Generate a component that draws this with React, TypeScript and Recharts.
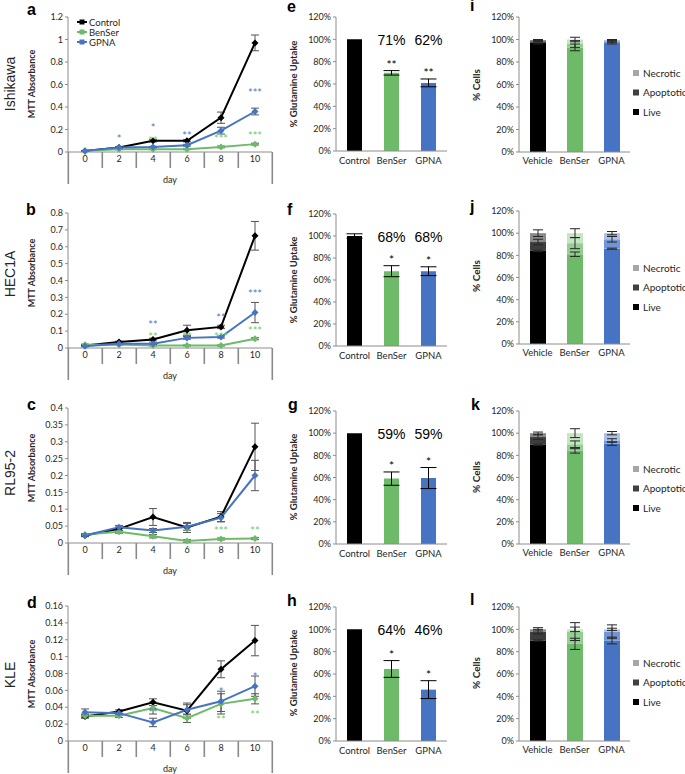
import React from 'react'
import { LineChart, Line, BarChart, Bar, XAxis, YAxis, ErrorBar, LabelList, Cell } from 'recharts'

const FONT = 'Lato, "Open Sans", sans-serif'
const ARIAL = '"Liberation Sans", Arial, sans-serif'
const AXIS = '#8c8c8c'
const SEP = '#8a8a8a'
const INK = '#262626'
const BLACK = '#000000'
const GREEN = '#6dbb69'
const BLUE = '#4674c2'
const GREEN_STAR = '#6ccd68'
const BLUE_STAR = '#4a7cc9'

const days = ['0', '2', '4', '6', '8', '10']

// a  Ishikawa
const ishControl = [0.01, 0.04, 0.1, 0.1, 0.305, 0.97]
const ishControlErr = [0.004, 0.006, 0.01, 0.01, 0.05, 0.07]
const ishBenSer = [0.01, 0.025, 0.025, 0.025, 0.045, 0.07]
const ishBenSerErr = [0.003, 0.004, 0.004, 0.004, 0.008, 0.008]
const ishGpna = [0.01, 0.04, 0.045, 0.06, 0.19, 0.36]
const ishGpnaErr = [0.003, 0.005, 0.005, 0.008, 0.03, 0.03]
const ishBenSerStars = ['', '', '**', '', '***', '***']
const ishGpnaStars = ['', '*', '*', '**', '', '***']
const ishTicks = [0, 0.2, 0.4, 0.6, 0.8, 1, 1.2]

// b  HEC1A
const hecControl = [0.015, 0.035, 0.05, 0.105, 0.125, 0.665]
const hecControlErr = [0.003, 0.005, 0.008, 0.03, 0.01, 0.085]
const hecBenSer = [0.02, 0.02, 0.015, 0.015, 0.015, 0.055]
const hecBenSerErr = [0.003, 0.003, 0.003, 0.003, 0.003, 0.006]
const hecGpna = [0.01, 0.025, 0.025, 0.06, 0.065, 0.21]
const hecGpnaErr = [0.003, 0.004, 0.004, 0.008, 0.006, 0.06]
const hecBenSerStars = ['', '', '**', '**', '***', '***']
const hecGpnaStars = ['', '', '**', '', '**', '***']
const hecTicks = [0, 0.1, 0.2, 0.3, 0.4, 0.5, 0.6, 0.7, 0.8]

// c  RL95-2
const rlControl = [0.022, 0.042, 0.077, 0.046, 0.078, 0.285]
const rlControlErr = [0.003, 0.005, 0.025, 0.015, 0.015, 0.07]
const rlBenSer = [0.025, 0.033, 0.02, 0.006, 0.012, 0.013]
const rlBenSerErr = [0.003, 0.004, 0.005, 0.004, 0.003, 0.003]
const rlGpna = [0.022, 0.047, 0.037, 0.048, 0.075, 0.2]
const rlGpnaErr = [0.003, 0.005, 0.006, 0.01, 0.012, 0.045]
const rlBenSerStars = ['', '', '', '*', '***', '**']
const rlGpnaStars = ['', '', '', '', '', '']
const rlTicks = [0, 0.05, 0.1, 0.15, 0.2, 0.25, 0.3, 0.35, 0.4]

// d  KLE
const kleControl = [0.029, 0.035, 0.046, 0.036, 0.085, 0.119]
const kleControlErr = [0.002, 0.002, 0.004, 0.009, 0.01, 0.018]
const kleBenSer = [0.03, 0.03, 0.039, 0.027, 0.044, 0.05]
const kleBenSerErr = [0.002, 0.002, 0.007, 0.005, 0.012, 0.006]
const kleGpna = [0.034, 0.033, 0.022, 0.037, 0.047, 0.065]
const kleGpnaErr = [0.004, 0.002, 0.005, 0.006, 0.012, 0.012]
const kleBenSerStars = ['', '', '', '', '**', '**']
const kleGpnaStars = ['', '', '**', '', '*', '*']
const kleTicks = [0, 0.02, 0.04, 0.06, 0.08, 0.1, 0.12, 0.14, 0.16]

// e-h glutamine uptake
const treatments = ['Control', 'BenSer', 'GPNA']
const uptakeTicks = [0, 20, 40, 60, 80, 100, 120]
const ishUptake = [100, 70, 61]
const ishUptakeErr = [0, 2, 3.5]
const ishUptakeLabels = ['', '71%', '62%']
const ishUptakeStars = ['', '**', '**']
const hecUptake = [100, 68, 68]
const hecUptakeErr = [2, 5, 4]
const hecUptakeLabels = ['', '68%', '68%']
const hecUptakeStars = ['', '*', '*']
const rlUptake = [100, 59, 59.5]
const rlUptakeErr = [0, 6, 9.5]
const rlUptakeLabels = ['', '59%', '59%']
const rlUptakeStars = ['', '*', '*']
const kleUptake = [100, 64.5, 46]
const kleUptakeErr = [0, 7.5, 8]
const kleUptakeLabels = ['', '64%', '46%']
const kleUptakeStars = ['', '*', '*']

// i-l cell viability
const groups = ['Vehicle', 'BenSer', 'GPNA']
const ishLive = [97, 93, 97]
const ishLiveErr = [1, 3, 1]
const ishApoptotic = [1.5, 3, 1.5]
const ishApoptoticErr = [0.5, 3, 1]
const ishNecrotic = [1, 4, 1]
const ishNecroticErr = [0.5, 2, 0.5]
const hecLive = [84, 81, 86]
const hecLiveErr = [0.5, 2, 0.5]
const hecApoptotic = [8, 10, 8.5]
const hecApoptoticErr = [2.5, 5, 2.5]
const hecNecrotic = [8, 9, 5.5]
const hecNecroticErr = [3, 4, 1.5]
const rlLive = [89.5, 84, 90.5]
const rlLiveErr = [0.5, 2, 1.5]
const rlApoptotic = [7, 6, 3]
const rlApoptoticErr = [2, 3, 1.5]
const rlNecrotic = [3.5, 10, 6.5]
const rlNecroticErr = [1, 4, 1.5]
const kleLive = [90, 87, 90]
const kleLiveErr = [0.5, 5, 3]
const kleApoptotic = [8, 11, 8]
const kleApoptoticErr = [2, 8, 6]
const kleNecrotic = [2, 2, 2]
const kleNecroticErr = [1.5, 2, 1]

const liveColors = [BLACK, GREEN, BLUE]
const apoptoticColors = ['#3d3d3d', '#94cf91', '#7195d6']
const necroticColors = ['#8a8a8a', '#c6e5c3', '#aec2e9']

const mttRows = (c: number[], ce: number[], b: number[], be: number[], g: number[], ge: number[], bs: string[], gs: string[]) =>
  days.map((day, i) => ({
    day,
    control: c[i], controlErr: ce[i],
    benser: b[i], benserErr: be[i],
    gpna: g[i], gpnaErr: ge[i],
    benserStar: bs[i], gpnaStar: gs[i],
  }))

const HALF = 17

// day labels with Excel-style separators between the categories
function DayTick(props: any) {
  const x = Number(props.x)
  const y = Number(props.y)
  const index = props.index
  return (
    <g>
      <text x={x} y={y + 10} textAnchor="middle" fontSize={9} fill={INK} fontFamily={FONT}>{props.payload.value}</text>
      <rect x={Math.round(x - HALF) - 0.5} y={y} width={1.6} height={index === 0 ? 32 : 16} fill={SEP} />
      {index === days.length - 1 && <rect x={Math.round(x + HALF) - 0.5} y={y} width={1.6} height={32} fill={SEP} />}
    </g>
  )
}

const diamond = (color: string) => (p: any) => {
  const { cx, cy, index } = p
  if (cx == null || cy == null) return <g key={index} />
  return <path key={index} d={`M${cx},${cy - 3.5}L${cx + 3.5},${cy}L${cx},${cy + 3.5}L${cx - 3.5},${cy}Z`} fill={color} />
}

const pos = (p: any) => ({ x: p.viewBox?.x ?? p.x, y: p.viewBox?.y ?? p.y })

function MttPanel({ top, data, ticks, greenBelow = false }: { top: number; data: any[]; ticks: number[]; greenBelow?: boolean }) {
  const gpnaStar = (p: any) => {
    if (!p.value) return null
    const { x, y } = pos(p)
    const both = !greenBelow && data[p.index]?.benserStar
    return <text x={x} y={y - (both ? 15 : 5)} textAnchor="middle" fontSize={11} fill={BLUE_STAR} fontFamily={FONT}>{p.value}</text>
  }
  const benserStar = (p: any) => {
    if (!p.value) return null
    const { x, y } = pos(p)
    return <text x={x} y={greenBelow ? y + 20 : y - 4} textAnchor="middle" fontSize={11} fill={GREEN_STAR} fontFamily={FONT}>{p.value}</text>
  }
  return (
    <div style={{ position: 'absolute', left: 0, top, width: 285, height: 190 }}>
      <LineChart width={285} height={190} data={data} margin={{ top: 17, right: 13, bottom: 0, left: 0 }}>
        <XAxis dataKey="day" height={38} interval={0} padding={{ left: HALF, right: HALF }}
          axisLine={{ stroke: AXIS }} tickLine={false} tickSize={0} tickMargin={0}
          tick={<DayTick />}
          label={{ value: 'day', position: 'insideBottom', offset: 7, fontSize: 9, fill: INK, fontFamily: FONT }} />
        <YAxis width={68} type="number" domain={[0, ticks[ticks.length - 1]]} ticks={ticks} interval={0}
          axisLine={{ stroke: AXIS }} tickLine={{ stroke: AXIS }} tickSize={3}
          tick={{ fontSize: 9, fill: INK, fontFamily: FONT }} />
        <Line dataKey="control" stroke={BLACK} strokeWidth={2} dot={diamond(BLACK)} isAnimationActive={false}>
          <ErrorBar dataKey="controlErr" width={4} stroke="#555" strokeWidth={1} direction="y" />
        </Line>
        <Line dataKey="benser" stroke={GREEN} strokeWidth={2} dot={diamond(GREEN)} isAnimationActive={false}>
          <ErrorBar dataKey="benserErr" width={4} stroke="#555" strokeWidth={1} direction="y" />
          <LabelList dataKey="benserStar" content={benserStar} />
        </Line>
        <Line dataKey="gpna" stroke={BLUE} strokeWidth={2} dot={diamond(BLUE)} isAnimationActive={false}>
          <ErrorBar dataKey="gpnaErr" width={4} stroke="#555" strokeWidth={1} direction="y" />
          <LabelList dataKey="gpnaStar" content={gpnaStar} />
        </Line>
      </LineChart>
    </div>
  )
}

function UptakePanel({ top, plotH, values, errs, labels, stars }: { top: number; plotH: number; values: number[]; errs: number[]; labels: string[]; stars: string[] }) {
  const rows = treatments.map((name, i) => ({ name, value: values[i], err: errs[i], pct: labels[i], star: stars[i] }))
  const starContent = (p: any) => {
    if (!p.value) return null
    const vb = p.viewBox || p
    const r = rows[p.index]
    const errTop = vb.y - (r ? (r.err * vb.height) / r.value : 0)
    return <text x={vb.x + vb.width / 2} y={errTop - 2} textAnchor="middle" fontSize={12} fill={BLACK} fontFamily={FONT}>{p.value}</text>
  }
  const pctContent = (p: any) => {
    if (!p.value) return null
    const vb = p.viewBox || p
    return <text x={vb.x + vb.width / 2} y={17 + 28} textAnchor="middle" fontSize={14} fill={BLACK} fontFamily={ARIAL}>{p.value}</text>
  }
  return (
    <div style={{ position: 'absolute', left: 230, top, width: 230, height: 17 + plotH + 25 }}>
      <BarChart width={230} height={17 + plotH + 25} data={rows} margin={{ top: 17, right: 13, bottom: 0, left: 0 }}>
        <XAxis dataKey="name" height={25} interval={0} axisLine={{ stroke: AXIS }} tickLine={false} tickSize={0} tickMargin={6}
          tick={{ fontSize: 9.5, fill: INK, fontFamily: FONT }} />
        <YAxis width={106} type="number" domain={[0, 120]} ticks={uptakeTicks} interval={0} tickFormatter={(v: number) => `${v}%`}
          axisLine={{ stroke: AXIS }} tickLine={{ stroke: AXIS }} tickSize={3}
          tick={{ fontSize: 9, fill: INK, fontFamily: FONT }} />
        <Bar dataKey="value" barSize={15} isAnimationActive={false}>
          {rows.map((r, i) => <Cell key={r.name} fill={liveColors[i]} />)}
          <ErrorBar dataKey="err" width={8} stroke={BLACK} strokeWidth={1} direction="y" />
          <LabelList dataKey="star" content={starContent} />
          <LabelList dataKey="pct" content={pctContent} />
        </Bar>
      </BarChart>
    </div>
  )
}

function ViabilityPanel({ top, plotH, live, liveErr, apo, apoErr, nec, necErr }: { top: number; plotH: number; live: number[]; liveErr: number[]; apo: number[]; apoErr: number[]; nec: number[]; necErr: number[] }) {
  const rows = groups.map((name, i) => ({ name, live: live[i], liveErr: liveErr[i], apo: apo[i], apoErr: apoErr[i], nec: nec[i], necErr: necErr[i] }))
  return (
    <div style={{ position: 'absolute', left: 440, top, width: 245, height: 17 + plotH + 25 }}>
      <BarChart width={245} height={17 + plotH + 25} data={rows} margin={{ top: 17, right: 55, bottom: 0, left: 0 }}>
        <XAxis dataKey="name" height={25} interval={0} axisLine={{ stroke: AXIS }} tickLine={false} tickSize={0} tickMargin={5}
          tick={{ fontSize: 9.5, fill: INK, fontFamily: FONT }} />
        <YAxis width={79} type="number" domain={[0, 120]} ticks={uptakeTicks} interval={0} tickFormatter={(v: number) => `${v}%`}
          axisLine={{ stroke: AXIS }} tickLine={{ stroke: AXIS }} tickSize={3}
          tick={{ fontSize: 9, fill: INK, fontFamily: FONT }} />
        <Bar dataKey="live" stackId="v" barSize={16} isAnimationActive={false}>
          {rows.map((r, i) => <Cell key={r.name} fill={liveColors[i]} />)}
          <ErrorBar dataKey="liveErr" width={5} stroke={INK} strokeWidth={1} direction="y" />
        </Bar>
        <Bar dataKey="apo" stackId="v" barSize={16} isAnimationActive={false}>
          {rows.map((r, i) => <Cell key={r.name} fill={apoptoticColors[i]} />)}
          <ErrorBar dataKey="apoErr" width={5} stroke={INK} strokeWidth={1} direction="y" />
        </Bar>
        <Bar dataKey="nec" stackId="v" barSize={16} isAnimationActive={false}>
          {rows.map((r, i) => <Cell key={r.name} fill={necroticColors[i]} />)}
          <ErrorBar dataKey="necErr" width={5} stroke={INK} strokeWidth={1} direction="y" />
        </Bar>
      </BarChart>
    </div>
  )
}

const cellLines = ['Ishikawa', 'HEC1A', 'RL95-2', 'KLE']
const cellLineY = [84, 274, 473, 675]
const mttTitleY = [84, 273, 468, 674]
const uptakeTitleY = [84, 280, 477, 673]
const cellsTitleY = [85, 276, 477, 673]
const letters = [
  ['a', 27, 15], ['b', 26, 215], ['c', 27, 410], ['d', 27, 608],
  ['e', 287, 12], ['f', 287, 215], ['g', 288, 410], ['h', 287, 606],
  ['i', 470, 11], ['j', 470, 212], ['k', 471, 410], ['l', 470, 605],
] as const
const legendRows = [73, 268, 469, 663]
const cellLegend = [['Necrotic', '#a6a6a6'], ['Apoptotic', '#404040'], ['Live', BLACK]] as const
const lineLegend = [['Control', BLACK], ['BenSer', GREEN], ['GPNA', BLUE]] as const

function Overlay() {
  return (
    <svg width={685} height={774} style={{ position: 'absolute', left: 0, top: 0, pointerEvents: 'none' }}>
      {letters.map(([t, x, y]) => (
        <text key={t} x={x} y={y} fontSize={16} fontWeight="bold" fontFamily={ARIAL}>{t}</text>
      ))}
      {cellLines.map((t, i) => (
        <text key={t} transform={`translate(15,${cellLineY[i]}) rotate(-90)`} textAnchor="middle" fontSize={14} fontFamily={ARIAL} fill={INK}>{t}</text>
      ))}
      {mttTitleY.map((y, i) => (
        <text key={'m' + i} transform={`translate(35,${y}) rotate(-90)`} textAnchor="middle" fontSize={9} fontWeight="bold" fontFamily={FONT} fill={INK}>MTT Absorbance</text>
      ))}
      {uptakeTitleY.map((y, i) => (
        <text key={'u' + i} transform={`translate(297,${y}) rotate(-90)`} textAnchor="middle" fontSize={9.5} fontWeight="bold" fontFamily={FONT} fill={INK}>% Glutamine Uptake</text>
      ))}
      {cellsTitleY.map((y, i) => (
        <text key={'c' + i} transform={`translate(480,${y}) rotate(-90)`} textAnchor="middle" fontSize={10} fontWeight="bold" fontFamily={FONT} fill={INK}>% Cells</text>
      ))}
      {lineLegend.map(([t, c], i) => (
        <g key={t}>
          <line x1={77} x2={87} y1={22 + i * 10} y2={22 + i * 10} stroke={c} strokeWidth={2} />
          <rect x={79.5} y={19.5 + i * 10} width={5} height={5} fill={c} />
          <text x={89} y={25.5 + i * 10} fontSize={9.5} fontFamily={FONT} fill={INK}>{t}</text>
        </g>
      ))}
      {legendRows.map((y0, r) =>
        cellLegend.map(([t, c], i) => (
          <g key={`${r}-${t}`}>
            <rect x={633} y={y0 + i * 19.5 - 3} width={6} height={6} fill={c} />
            <text x={643} y={y0 + i * 19.5 + 3.5} fontSize={10} fontFamily={FONT} fill={INK}>{t}</text>
          </g>
        ))
      )}
    </svg>
  )
}

export default function App() {
  return (
    <div style={{ position: 'absolute', left: 0, top: 0, width: 685, height: 774, background: '#fff', overflow: 'hidden' }}>
      <MttPanel top={0} ticks={ishTicks} data={mttRows(ishControl, ishControlErr, ishBenSer, ishBenSerErr, ishGpna, ishGpnaErr, ishBenSerStars, ishGpnaStars)} />
      <MttPanel top={196} ticks={hecTicks} data={mttRows(hecControl, hecControlErr, hecBenSer, hecBenSerErr, hecGpna, hecGpnaErr, hecBenSerStars, hecGpnaStars)} />
      <MttPanel top={391} ticks={rlTicks} data={mttRows(rlControl, rlControlErr, rlBenSer, rlBenSerErr, rlGpna, rlGpnaErr, rlBenSerStars, rlGpnaStars)} />
      <MttPanel top={589} ticks={kleTicks} greenBelow data={mttRows(kleControl, kleControlErr, kleBenSer, kleBenSerErr, kleGpna, kleGpnaErr, kleBenSerStars, kleGpnaStars)} />

      <UptakePanel top={0} plotH={134} values={ishUptake} errs={ishUptakeErr} labels={ishUptakeLabels} stars={ishUptakeStars} />
      <UptakePanel top={197} plotH={132} values={hecUptake} errs={hecUptakeErr} labels={hecUptakeLabels} stars={hecUptakeStars} />
      <UptakePanel top={394} plotH={133} values={rlUptake} errs={rlUptakeErr} labels={rlUptakeLabels} stars={rlUptakeStars} />
      <UptakePanel top={590} plotH={134} values={kleUptake} errs={kleUptakeErr} labels={kleUptakeLabels} stars={kleUptakeStars} />

      <ViabilityPanel top={0} plotH={135} live={ishLive} liveErr={ishLiveErr} apo={ishApoptotic} apoErr={ishApoptoticErr} nec={ishNecrotic} necErr={ishNecroticErr} />
      <ViabilityPanel top={194} plotH={133} live={hecLive} liveErr={hecLiveErr} apo={hecApoptotic} apoErr={hecApoptoticErr} nec={hecNecrotic} necErr={hecNecroticErr} />
      <ViabilityPanel top={394} plotH={133} live={rlLive} liveErr={rlLiveErr} apo={rlApoptotic} apoErr={rlApoptoticErr} nec={rlNecrotic} necErr={rlNecroticErr} />
      <ViabilityPanel top={590} plotH={134} live={kleLive} liveErr={kleLiveErr} apo={kleApoptotic} apoErr={kleApoptoticErr} nec={kleNecrotic} necErr={kleNecroticErr} />

      <Overlay />
    </div>
  )
}
